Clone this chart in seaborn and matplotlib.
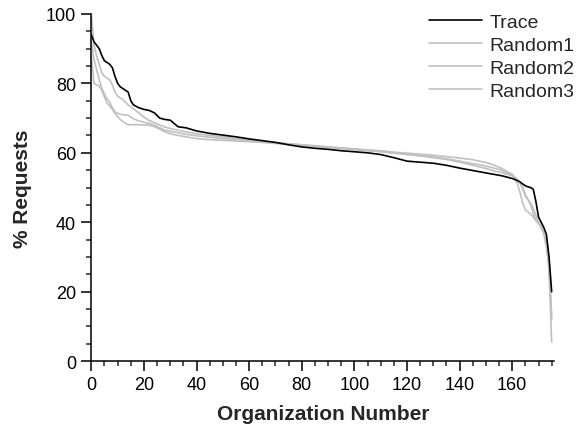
import numpy as np
import pandas as pd
import matplotlib
matplotlib.use("Agg")
import matplotlib.pyplot as plt
from matplotlib.ticker import MultipleLocator
import seaborn as sns

# --- data ---
org = [0, 1, 2, 3, 4, 5, 6, 7, 8, 9, 10, 11, 12, 13, 14, 15, 16, 18, 20, 22,
       24, 26, 28, 30, 33, 36, 40, 45, 50, 55, 60, 65, 70, 75, 80, 85, 90, 95,
       100, 105, 110, 115, 120, 125, 130, 135, 140, 145, 150, 153, 156, 158,
       160, 161, 162, 163, 164, 165, 166, 167, 168, 169, 170, 171, 172, 173,
       174, 175]

trace = [94, 92, 91, 90, 88, 86.5, 86, 85.5, 84.5, 82, 80, 79, 78.5, 78, 77.5,
         75, 73.8, 73, 72.5, 72.2, 71.5, 70, 69.6, 69.4, 67.5, 67.2, 66.3,
         65.6, 65.1, 64.6, 64, 63.5, 63, 62.3, 61.7, 61.3, 61, 60.6, 60.3, 60,
         59.5, 58.6, 57.6, 57.3, 57, 56.4, 55.6, 54.9, 54.2, 53.8, 53.4, 53,
         52.6, 52.3, 52, 51.6, 51, 50.5, 50.2, 50, 49.5, 46, 41.5, 40, 38.5,
         36.5, 30, 20]

random1 = [100, 91, 88, 85.5, 83, 82, 81.5, 81, 79.5, 77.5, 76.3, 75.8, 75.4,
           74.5, 73.8, 73.2, 72.7, 71.5, 70.3, 69.3, 68.7, 68, 67.4, 67, 66.5,
           66, 65.5, 65, 64.6, 64.1, 63.7, 63.3, 62.9, 62.6, 62.3, 62, 61.7,
           61.4, 61.1, 60.8, 60.6, 60.2, 59.9, 59.6, 59.3, 58.9, 58.5, 58,
           57.2, 56.5, 55.5, 54.6, 53.8, 53, 52, 51.2, 50, 48, 46.5, 45.5, 44,
           42, 40, 38.5, 37, 35.5, 28, 13]

random2 = [92, 87, 84, 81, 78.5, 77, 75.5, 74.6, 73, 71.8, 71.4, 71.1, 71,
           70.9, 70.8, 70.3, 69.8, 69.2, 68.8, 68.5, 68, 67.2, 66.5, 66.2,
           65.8, 65.3, 64.9, 64.5, 64.1, 63.8, 63.5, 63.2, 62.9, 62.6, 62.3,
           62, 61.7, 61.4, 61.1, 60.8, 60.4, 60, 59.6, 59.2, 58.8, 58.3, 57.6,
           56.9, 56.2, 55.6, 55, 54.3, 53.5, 52.6, 51, 48.5, 45.5, 43.5, 43,
           42.3, 41.5, 40.5, 39.6, 38.5, 37.2, 34, 26, 5.5]

random3 = [88, 80, 79.6, 79.2, 78, 76, 74.3, 73.5, 72.5, 71.3, 70.5, 69.6, 69,
           68.5, 68.1, 68.1, 68.1, 68.1, 68, 68, 67.5, 66.8, 66, 65.5, 65,
           64.6, 64.1, 63.8, 63.6, 63.4, 63.2, 63, 62.7, 62.4, 62.1, 61.8,
           61.5, 61.2, 60.9, 60.6, 60.3, 59.9, 59.5, 59.1, 58.6, 58.1, 57.3,
           56.4, 55.5, 54.8, 54.3, 53.8, 53.4, 53, 52.3, 51.5, 49.5, 47.5,
           46.5, 45, 42.5, 40.5, 39.8, 38.8, 36.5, 33, 27.5, 12]

series_names = ["Trace", "Random1", "Random2", "Random3"]
series_colors = {"Trace": "black", "Random1": "#c0c0c0",
                 "Random2": "#c0c0c0", "Random3": "#c0c0c0"}

frames = []
for name, vals in zip(series_names, [trace, random1, random2, random3]):
    frames.append(pd.DataFrame({"org": org, "pct": vals, "series": name}))
df = pd.concat(frames, ignore_index=True)

sns.set_style("ticks")
plt.rcParams["font.family"] = ["Liberation Sans", "DejaVu Sans"]

fig = plt.figure(figsize=(5.78, 4.27), dpi=100)
ax = fig.add_axes([0.158, 0.152, 0.801, 0.813])

# grey ones first so the black trace sits on top
draw_order = ["Random1", "Random2", "Random3", "Trace"]
for name in draw_order:
    sub = df[df["series"] == name]
    sns.lineplot(data=sub, x="org", y="pct", color=series_colors[name],
                 linewidth=1.2, ax=ax, label=name, estimator=None, sort=False)

ax.set_xlim(0, 176)
ax.set_ylim(0, 100)
ax.xaxis.set_major_locator(MultipleLocator(20))
ax.xaxis.set_minor_locator(MultipleLocator(5))
ax.yaxis.set_major_locator(MultipleLocator(20))
ax.yaxis.set_minor_locator(MultipleLocator(5))
ax.tick_params(which="major", length=7.5, width=1.1, labelsize=13, direction="out",
               colors="black", pad=3.5)
ax.tick_params(which="minor", length=3.5, width=1.1, direction="out")
for side in ["top", "right"]:
    ax.spines[side].set_visible(False)
for side in ["left", "bottom"]:
    ax.spines[side].set_linewidth(1.1)
    ax.spines[side].set_color("black")

ax.set_xlabel("Organization Number", fontsize=15, fontweight="bold", labelpad=8)
ax.set_ylabel("% Requests", fontsize=15, fontweight="bold", labelpad=10)

handles, labels = ax.get_legend_handles_labels()
lookup = dict(zip(labels, handles))
ax.legend([lookup[n] for n in series_names], series_names, loc="upper left",
          bbox_to_anchor=(0.712, 1.008), bbox_transform=fig.transFigure,
          frameon=False, fontsize=14, borderpad=0.4,
          handlelength=2.7, handletextpad=0.42, labelspacing=0.28)

fig.savefig("out.png", dpi=100)
